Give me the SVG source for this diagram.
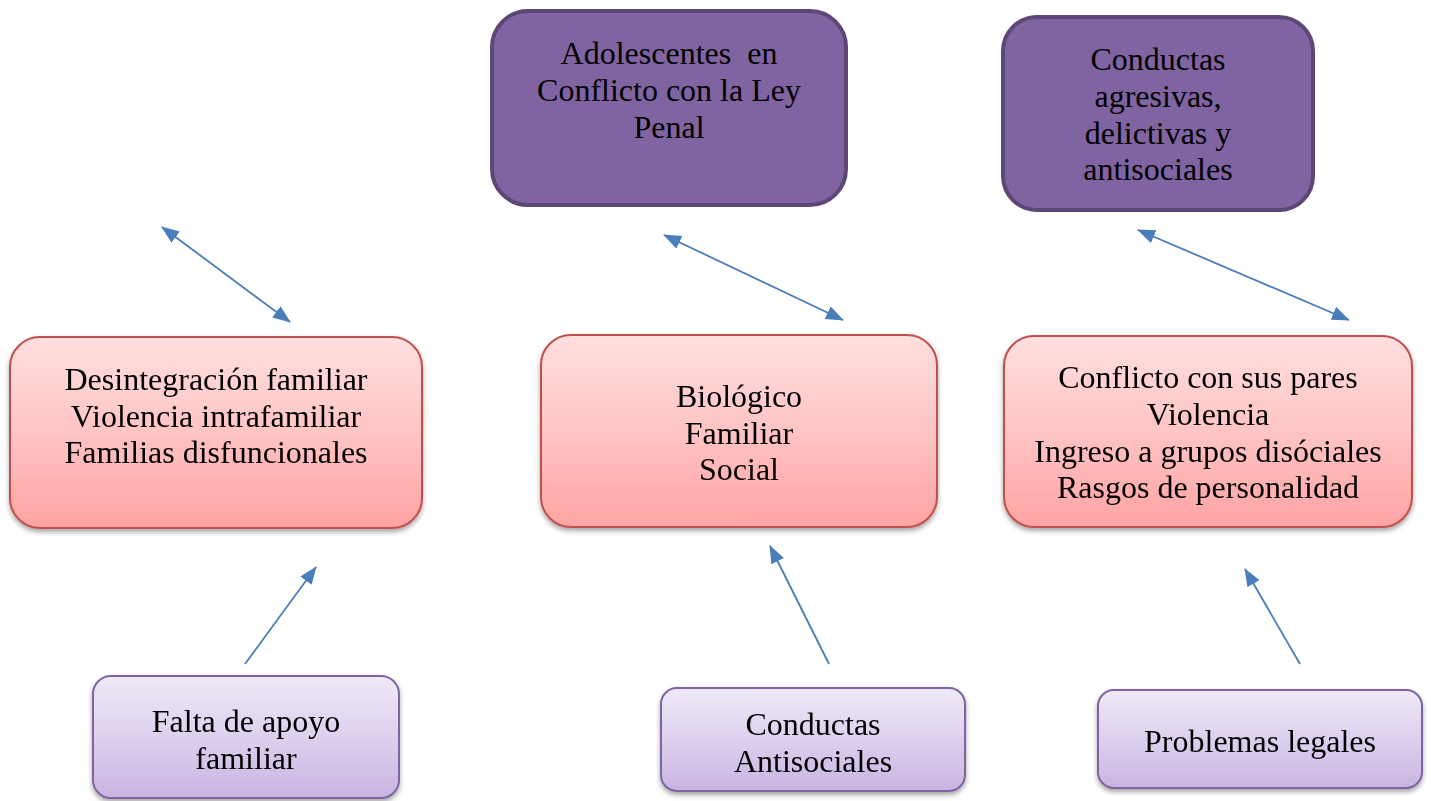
<svg xmlns="http://www.w3.org/2000/svg" width="1431" height="801" viewBox="0 0 1431 801">
<style>
text{font-family:"Liberation Serif","Times New Roman",serif;font-size:32px;fill:#000;text-anchor:middle;white-space:pre}
.top{fill:#8064a2;stroke:#5c4776;stroke-width:4}
.mid{fill:url(#gPink);stroke:#c0504d;stroke-width:2}
.bot{fill:url(#gLav);stroke:#8064a2;stroke-width:2}
.c{fill:none;stroke:#4a7ebb;stroke-width:1.8}
</style>
<defs>
<linearGradient id="gPink" x1="0" y1="0" x2="0" y2="1"><stop offset="0" stop-color="#ffdfdf"/><stop offset="0.5" stop-color="#ffc4c4"/><stop offset="1" stop-color="#ffa3a3"/></linearGradient>
<linearGradient id="gLav" x1="0" y1="0" x2="0" y2="1"><stop offset="0" stop-color="#efe9f7"/><stop offset="0.5" stop-color="#ddd0ee"/><stop offset="1" stop-color="#c8b4e2"/></linearGradient>
<filter id="sh" x="-10%" y="-10%" width="120%" height="130%"><feDropShadow dx="0" dy="3" stdDeviation="2.5" flood-color="#000" flood-opacity="0.35"/></filter>
<marker id="ahb" viewBox="0 0 18 14" refX="17" refY="7" markerWidth="18" markerHeight="14" markerUnits="userSpaceOnUse" orient="auto-start-reverse"><path d="M0,0 L18,7 L0,14 z" fill="#4a7ebb"/></marker>
</defs>
<g id="connectors">
<line class="c" x1="162" y1="227" x2="290" y2="322" marker-start="url(#ahb)" marker-end="url(#ahb)"/>
<line class="c" x1="664" y1="235" x2="843" y2="320" marker-start="url(#ahb)" marker-end="url(#ahb)"/>
<line class="c" x1="1138" y1="230" x2="1349" y2="320" marker-start="url(#ahb)" marker-end="url(#ahb)"/>
<line class="c" x1="245" y1="664" x2="316" y2="567" marker-end="url(#ahb)"/>
<line class="c" x1="829" y1="664" x2="770" y2="546" marker-end="url(#ahb)"/>
<line class="c" x1="1300" y1="664" x2="1245" y2="569" marker-end="url(#ahb)"/>
</g>
<g id="n-adolescentes">
<rect class="top" x="492" y="11" width="354" height="194" rx="36"/>
<text x="669" y="64">Adolescentes  en</text>
<text x="669" y="101">Conflicto con la Ley</text>
<text x="669" y="138">Penal</text>
</g>
<g id="n-conductas-agresivas">
<rect class="top" x="1003" y="17" width="310" height="193" rx="34"/>
<text x="1158" y="70">Conductas</text>
<text x="1158" y="107">agresivas,</text>
<text x="1158" y="144">delictivas y</text>
<text x="1158" y="180">antisociales</text>
</g>
<g id="n-desintegracion" filter="url(#sh)">
<rect class="mid" x="10" y="337" width="412" height="191" rx="30"/>
<text x="216" y="390">Desintegración familiar</text>
<text x="216" y="427">Violencia intrafamiliar</text>
<text x="216" y="463">Familias disfuncionales</text>
</g>
<g id="n-biologico" filter="url(#sh)">
<rect class="mid" x="541" y="335" width="396" height="192" rx="30"/>
<text x="739" y="407">Biológico</text>
<text x="739" y="444">Familiar</text>
<text x="739" y="480">Social</text>
</g>
<g id="n-conflicto" filter="url(#sh)">
<rect class="mid" x="1004" y="336" width="408" height="191" rx="30"/>
<text x="1208" y="388">Conflicto con sus pares</text>
<text x="1208" y="425">Violencia</text>
<text x="1208" y="462">Ingreso a grupos disóciales</text>
<text x="1208" y="498">Rasgos de personalidad</text>
</g>
<g id="n-falta" filter="url(#sh)">
<rect class="bot" x="93" y="676" width="306" height="122" rx="18"/>
<text x="246" y="732">Falta de apoyo</text>
<text x="246" y="769">familiar</text>
</g>
<g id="n-conductas-antisociales" filter="url(#sh)">
<rect class="bot" x="661" y="688" width="304" height="103" rx="16"/>
<text x="813" y="735">Conductas</text>
<text x="813" y="772">Antisociales</text>
</g>
<g id="n-problemas" filter="url(#sh)">
<rect class="bot" x="1098" y="690" width="324" height="98" rx="16"/>
<text x="1260" y="752">Problemas legales</text>
</g>
</svg>
